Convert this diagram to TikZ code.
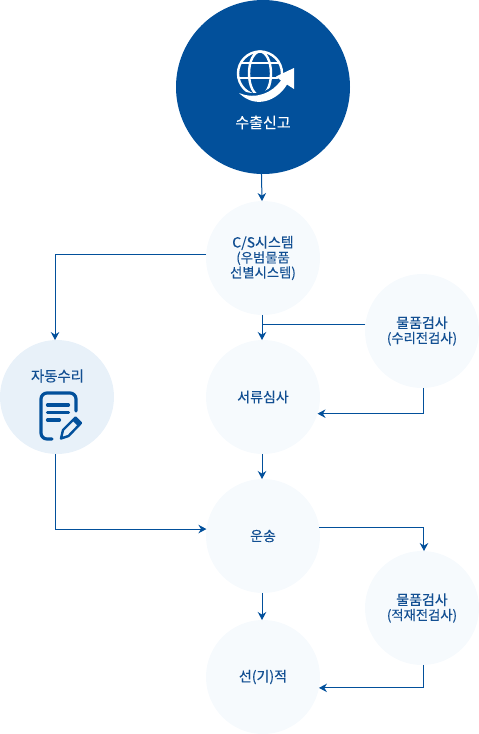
\documentclass[tikz,border=0pt]{standalone}
\usepackage{fontspec}
\setmainfont[FakeBold=0.25]{Noto Sans CJK KR}
\usetikzlibrary{arrows.meta,positioning}
\definecolor{SinGoBlue}{HTML}{02509B}
\definecolor{SinGoText}{HTML}{124F92}
\definecolor{SinGoPale}{HTML}{F6FAFD}
\definecolor{SinGoSoft}{HTML}{E8F1F9}
\newcommand{\grande}{\fontsize{14}{16}\selectfont}
\newcommand{\chico}{\fontsize{13.3}{15.5}\selectfont}
\begin{document}
\begin{tikzpicture}[
  x=1pt,y=-1pt,
  node distance=25pt,
  inicio/.style={circle,fill=SinGoBlue,minimum size=174pt,inner sep=0pt,outer sep=0pt},
  paso/.style={circle,fill=SinGoPale,text=SinGoText,minimum size=114pt,inner sep=0pt,outer sep=0pt,
    align=center,font=\grande},
  icono/.style={draw=white,line width=2.4pt},
  hoja/.style={draw=SinGoBlue,line width=3.2pt,line cap=round},
  flecha/.style={-{Stealth[length=8pt,width=8.5pt]},draw=SinGoBlue,line width=1pt},
  linea/.style={draw=SinGoBlue,line width=1pt}
]
\useasboundingbox (0,0) rectangle (479,734);
\node[inicio] (sinGo) at (263,87) {};
\node[paso,below=27pt of sinGo] (cs) {C/S시스템\\[-1pt]{\chico(우범물품}\\[-1pt]{\chico 선별시스템)}};
\node[paso,below=of cs] (seoryu) {서류심사};
\node[paso,below=of seoryu] (unsong) {운송};
\node[paso,below=27pt of unsong] (seongi) {선(기)적};
\node[paso,right=45pt of seoryu,yshift=66pt] (gyeomsa) {물품검사\\[-1pt]{\chico(수리전검사)}};
\node[paso,right=45pt of unsong,yshift=-72pt] (jeokjae) {물품검사\\[-1pt]{\chico(적재전검사)}};
\node[paso,fill=SinGoSoft,left=92pt of seoryu] (jadong) {};
\node[text=white,font=\fontsize{15}{17}\selectfont] (sinGoTxt) at (263,122.5) {수출신고};
\node[text=SinGoText,font=\fontsize{14.4}{16}\selectfont] (jadongTxt) at (57.5,376) {자동수리};
% conectores
\coordinate (union) at (seoryu.91 |- gyeomsa.173);
\foreach \a/\b in {sinGo.269/cs.91,cs.269/seoryu.91,seoryu.269/unsong.91,unsong.269/seongi.91}
  \draw[flecha] (\a) -- (\b);
\draw[flecha] (cs.176) -| (jadong.92);
\draw[flecha] (jadong.268) |- (unsong.173);
\draw[linea] (gyeomsa.173) -- (union);
\draw[flecha] (gyeomsa.272) |- (seoryu.-17);
\draw[flecha] (unsong.9) -| (jeokjae.88);
\draw[flecha] (jeokjae.272) |- (seongi.-11);
% globo
\draw[icono] (260,73.5) circle (22pt);
\draw[icono] (260,73.5) ellipse (11pt and 22pt);
\draw[icono] (241,63) -- (279,63);
\draw[icono] (238,78) -- (282,78);
\fill[SinGoBlue] (246,92) .. controls (260,96) and (272,90) .. (279,77) -- (296,65) -- (297,92) -- (288,91) .. controls (276,108) and (252,108) .. (246,92) -- cycle;
\fill[white] (294,68) -- (294,89) -- (287,84.5) .. controls (278,100) and (256,110) .. (239,93) .. controls (256,100) and (272,93) .. (281,80.5) -- (276,76.5) -- cycle;
% hoja
\draw[hoja,rounded corners=6pt] (52,439) -- (41,439) -- (41,393) -- (76,393) -- (76,411);
\draw[hoja] (47.5,405) -- (68.5,405);
\draw[hoja] (47.5,412.5) -- (68.5,412.5);
\draw[hoja] (47.5,420) -- (59.5,420);
\draw[draw=SinGoBlue,fill=SinGoSoft,line width=2.4pt,line join=round] (61,438.5) -- (63,430) -- (75.5,417.5) -- (81,423) -- (68.5,436) -- cycle;
\fill[SinGoBlue] (72.5,420.5) -- (75.5,417.5) -- (81,423) -- (78,426) -- cycle;
\end{tikzpicture}
\end{document}
